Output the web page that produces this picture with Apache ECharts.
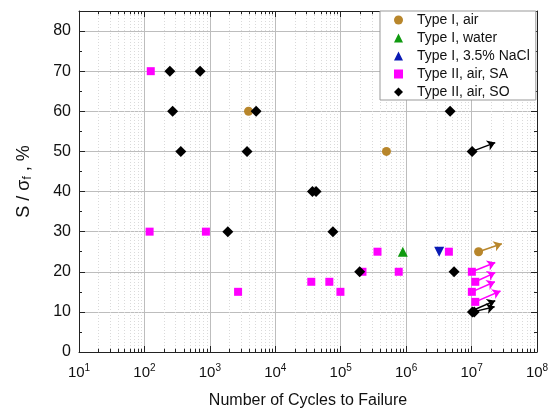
<!DOCTYPE html>
<html>
<head>
<meta charset="utf-8">
<script src="https://cdn.jsdelivr.net/npm/echarts@6/dist/echarts.min.js"></script>
<style>html,body{margin:0;padding:0;background:#fff}#c{width:551px;height:412px}</style>
</head>
<body>
<div id="c"></div>
<script>
// ---- data (cycles, S/sigma_f %) ----
const typeIAir   = [[3900,60],[500000,50],[1.28e7,25]];
const typeIWater = [[890000,25]];
const typeINaCl  = [[3.2e6,25]];
const typeIISA   = [[125,70],[120,30],[870,30],[2700,15],[35500,17.5],[67000,17.5],[99000,15],
                    [215000,20],[365000,25],[770000,20],[4.5e6,25],[1.01e7,20],[1.14e7,17.5],[1.01e7,15],[1.14e7,12.5]];
const typeIISO   = [[245,70],[710,70],[270,60],[360,50],[5100,60],[3700,50],[1880,30],[37000,40],[42000,40],
                    [76000,30],[195000,20],[5.4e6,20],[4.7e6,60],[1.02e7,50],[1.03e7,10],[1.1e7,10]];
// run-out arrows: [x0, y0, x1, y1]
const airArrows = [[1.28e7,25,2.9e7,27]];
const saArrows  = [[1.01e7,20,2.3e7,22.3],[1.14e7,17.5,2.3e7,19.8],[1.01e7,15,2.27e7,17.5],[1.14e7,12.5,2.77e7,15.2]];
const soArrows  = [[1.02e7,50,2.3e7,52.2],[1.05e7,10,2.25e7,11.3],[1.12e7,10.6,2.3e7,12.8]];
// axis
const xDecades = [1,2,3,4,5,6,7,8];
const yMin = 0, yMax = 85, yStep = 10;
const legendNames = ['Type I, air','Type I, water','Type I, 3.5% NaCl','Type II, air, SA','Type II, air, SO'];

const minorVals = [];
for (let i = 0; i < xDecades.length - 1; i++) {
  for (let k = 2; k <= 9; k++) minorVals.push(k * Math.pow(10, xDecades[i]));
}
const minorGrid = minorVals.map(v => ({coords: [[v, yMin], [v, yMax]]}));
const minorTicks = [];
minorVals.forEach(v => {
  minorTicks.push({coords: [[v, yMin], [v, yMin + 0.8]]});
  minorTicks.push({coords: [[v, yMax], [v, yMax - 0.8]]});
});
const toLines = arr => arr.map(a => ({coords: [[a[0], a[1]], [a[2], a[3]]]}));

const chart = echarts.init(document.getElementById('c'));
const FONT = 'Liberation Sans, Arial, sans-serif';
const axisLineStyle = {color: '#222', width: 1};

function arrowSeries(data, color) {
  return {
    type: 'lines', coordinateSystem: 'cartesian2d', xAxisIndex: 0, yAxisIndex: 0,
    data: toLines(data), symbol: ['none', 'arrow'], symbolSize: 8, silent: true, z: 4,
    lineStyle: {color: color, width: 1.5, opacity: 1}, effect: {show: false}
  };
}

chart.setOption({
  animation: false,
  textStyle: {fontFamily: FONT},
  grid: {left: 79, right: 14, top: 11, bottom: 60, containLabel: false, outerBoundsMode: 'none'},
  legend: {
    data: legendNames, orient: 'vertical', left: 380, top: 11,
    backgroundColor: '#fff', borderColor: '#999', borderWidth: 1,
    padding: [1, 6, 0, 14], itemGap: 2, itemWidth: 9, itemHeight: 9,
    textStyle: {fontSize: 14, color: '#111', lineHeight: 16, fontFamily: FONT, padding: [0, 0, 0, 9]}
  },
  xAxis: [{
    type: 'log', logBase: 10, min: 10, max: 1e8, position: 'bottom',
    name: 'Number of Cycles to Failure', nameLocation: 'middle', nameGap: 41,
    nameTextStyle: {fontSize: 16, color: '#111', fontFamily: FONT},
    axisLine: {show: true, onZero: false, lineStyle: axisLineStyle},
    axisTick: {show: true, inside: true, length: 6, lineStyle: {color: '#222'}},
    splitLine: {show: true, lineStyle: {color: '#bdbdbd', width: 1}},
    axisLabel: {
      margin: 11, color: '#111',
      formatter: v => '{b|10}{s|' + Math.round(Math.log10(v)) + '}',
      rich: {b: {fontSize: 15, color: '#111', fontFamily: FONT}, s: {fontSize: 10, color: '#111', padding: [0, 0, 9, 0], fontFamily: FONT}}
    }
  }, {
    type: 'log', logBase: 10, min: 10, max: 1e8, position: 'top',
    axisLine: {show: true, onZero: false, lineStyle: axisLineStyle},
    axisTick: {show: true, inside: true, length: 6, lineStyle: {color: '#222'}},
    axisLabel: {show: false}, splitLine: {show: false}
  }],
  yAxis: [{
    type: 'value', min: yMin, max: yMax, interval: yStep, position: 'left',
    name: 'S / σ{sub|f} , %', nameLocation: 'middle', nameGap: 45, nameRotate: 90,
    nameTextStyle: {fontSize: 18, color: '#111', fontFamily: FONT,
      rich: {sub: {fontSize: 12, color: '#111', padding: [8, 0, 0, 0], fontFamily: FONT}}},
    axisLine: {show: true, onZero: false, lineStyle: axisLineStyle},
    axisTick: {show: true, inside: true, length: 6, lineStyle: {color: '#222'}},
    minorTick: {show: true, splitNumber: 2, length: 3, lineStyle: {color: '#222'}},
    splitLine: {show: true, lineStyle: {color: '#bdbdbd', width: 1}},
    axisLabel: {fontSize: 16, color: '#111', margin: 8, showMaxLabel: false,
      formatter: v => (v % 10 === 0 ? String(v) : '')}
  }, {
    type: 'value', min: yMin, max: yMax, interval: yStep, position: 'right',
    axisLine: {show: true, onZero: false, lineStyle: axisLineStyle},
    axisTick: {show: true, inside: true, length: 6, lineStyle: {color: '#222'}},
    minorTick: {show: true, splitNumber: 2, length: 3, lineStyle: {color: '#222'}},
    axisLabel: {show: false}, splitLine: {show: false}
  }],
  series: [
    {type: 'lines', coordinateSystem: 'cartesian2d', data: minorGrid, silent: true, z: 0,
     lineStyle: {color: '#dadada', width: 1, type: [1, 2], opacity: 1}},
    {type: 'lines', coordinateSystem: 'cartesian2d', data: minorTicks, silent: true, z: 1,
     lineStyle: {color: '#222', width: 1, opacity: 1}},
    arrowSeries(airArrows, '#b8862b'),
    arrowSeries(saArrows, '#ff00ff'),
    arrowSeries(soArrows, '#000000'),
    {name: legendNames[0], type: 'scatter', data: typeIAir, symbol: 'circle', symbolSize: 9,
     itemStyle: {color: '#b8862b', opacity: 1}, z: 5},
    {name: legendNames[1], type: 'scatter', data: typeIWater, symbol: 'triangle', symbolSize: 10,
     itemStyle: {color: '#109a10', opacity: 1}, z: 5},
    {name: legendNames[2], type: 'scatter', data: typeINaCl, symbol: 'triangle', symbolRotate: 180, symbolSize: 10,
     itemStyle: {color: '#0a1ab4', opacity: 1}, z: 5},
    {name: legendNames[3], type: 'scatter', data: typeIISA, symbol: 'rect', symbolSize: 8,
     itemStyle: {color: '#ff00ff', opacity: 1}, z: 5},
    {name: legendNames[4], type: 'scatter', data: typeIISO, symbol: 'diamond', symbolSize: 11,
     itemStyle: {color: '#000000', opacity: 1}, z: 6}
  ]
});
</script>
</body>
</html>
